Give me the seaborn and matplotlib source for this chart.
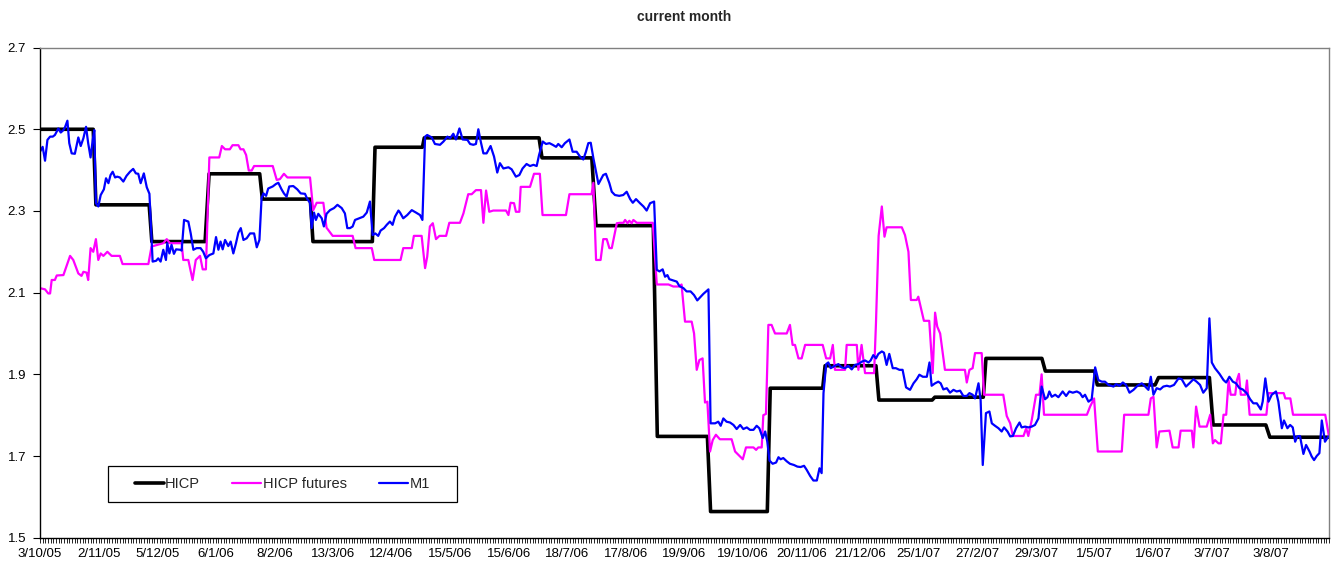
import numpy as np
import pandas as pd
import seaborn as sns
import matplotlib.pyplot as plt
from matplotlib.patches import Rectangle

# -----------------------------
# DATA (x = trading-day index from 3/10/05)
# -----------------------------

date_labels = ["3/10/05", "2/11/05", "5/12/05", "6/1/06", "8/2/06", "13/3/06",
               "12/4/06", "15/5/06", "15/6/06", "18/7/06", "17/8/06", "19/9/06",
               "19/10/06", "20/11/06", "21/12/06", "25/1/07", "27/2/07", "29/3/07",
               "1/5/07", "1/6/07", "3/7/07", "3/8/07"]
n_days = 485

hicp_x = [0, 20, 21, 41, 42, 62, 63.5, 82.5, 83.5, 101.5, 102.5, 124.8, 125.8,
          143.6, 144.3, 187.4, 188.5, 207.2, 208.8, 230.3, 231.8, 250.6, 251.8,
          273.1, 274.2, 293.9, 294.8, 313.9, 315, 335, 336, 354.2, 355.2, 376.2,
          377.5, 396, 397, 418.7, 420, 439.1, 440.5, 460.3, 461.8, 484]
hicp_y = [2.50, 2.50, 2.315, 2.315, 2.225, 2.225, 2.391, 2.391, 2.329, 2.329,
          2.225, 2.225, 2.456, 2.456, 2.479, 2.479, 2.430, 2.430, 2.264, 2.264,
          1.748, 1.748, 1.564, 1.564, 1.866, 1.866, 1.921, 1.921, 1.837, 1.837,
          1.844, 1.844, 1.939, 1.939, 1.908, 1.908, 1.874, 1.874, 1.892, 1.892,
          1.776, 1.776, 1.746, 1.746]

fut_x = [0, 1.9, 3.1, 3.8, 4.4, 5.6, 6.3, 8.8, 11.3, 12.5, 14.4, 15.6, 16.3, 17.5,
         18.1, 19.0, 20.0, 21.0, 21.9, 22.8, 23.8, 25.3, 26.9, 30.0, 31.0, 40.7,
         41.9, 46.3, 47.6, 48.8, 53.2, 53.8, 55.7, 57.3, 58.5, 60.1, 61.1, 62.3,
         63.6, 67.3, 68.3, 69.5, 71.3, 72.3, 74.5, 75.3, 76.4, 77.4, 78.4, 79.5,
         80.4, 87.4, 88.9, 90.1, 91.6, 92.9, 101.4, 102.6, 103.9, 106.4, 107.6,
         109.9, 117.4, 118.5, 124.6, 125.5, 135.4, 136.4, 139.6, 140.4, 143.3,
         144.6, 145.4, 146.4, 147.5, 148.7, 150.0, 152.5, 153.7, 157.7, 159.0,
         160.8, 162.1, 163.7, 165.6, 166.5, 167.5, 168.7, 170.2, 175.0, 175.9,
         176.7, 178.0, 178.7, 180.0, 180.5, 184.0, 185.5, 187.7, 188.7, 197.5,
         198.8, 207.1, 207.8, 208.8, 210.5, 211.5, 212.8, 213.8, 214.7, 216.6,
         217.8, 219.1, 219.7, 220.6, 221.3, 222.2, 222.8, 224.1, 230.1, 231.6,
         236.0, 237.8, 240.3, 240.9, 242.2, 244.7, 245.6, 246.6, 247.6, 248.8,
         249.7, 250.6, 251.6, 252.6, 253.8, 255.3, 259.7, 261.0, 262.2, 263.9,
         265.1, 267.9, 268.9, 269.7, 271.0, 271.6, 272.6, 273.5, 274.7, 276.0,
         280.4, 281.6, 282.6, 283.5, 284.8, 286.0, 287.3, 293.9, 295.2, 296.7,
         297.7, 298.5, 302.3, 302.9, 306.7, 307.3, 308.5, 309.8, 313.2, 313.9,
         314.9, 316.1, 317.1, 317.9, 323.6, 324.8, 326.1, 327.0, 329.2, 329.8,
         331.1, 331.9, 333.9, 335.2, 336.1, 336.9, 338.0, 339.0, 339.8, 347.3,
         348.0, 349.0, 350.2, 351.1, 353.6, 354.5, 361.7, 363.0, 364.3, 365.3,
         369.3, 370.3, 371.1, 372.4, 374.0, 375.3, 376.1, 377.0, 393.1, 394.3,
         395.8, 397.2, 406.2, 407.1, 416.2, 417.1, 418.1, 419.3, 420.3, 424.1,
         425.3, 427.5, 428.3, 432.5, 433.1, 434.1, 435.4, 438.1, 439.4, 440.4,
         441.2, 442.5, 443.4, 444.4, 445.4, 446.3, 447.1, 448.8, 449.4, 450.2,
         450.9, 452.6, 453.2, 454.2, 460.5, 461.3, 467.0, 467.6, 469.5, 470.5,
         482.6, 484.0]
fut_y = [2.111, 2.108, 2.098, 2.098, 2.131, 2.131, 2.142, 2.143, 2.190, 2.180,
         2.147, 2.141, 2.151, 2.149, 2.131, 2.209, 2.200, 2.231, 2.180, 2.196,
         2.190, 2.200, 2.190, 2.190, 2.170, 2.170, 2.213, 2.221, 2.231, 2.221,
         2.221, 2.180, 2.180, 2.131, 2.180, 2.190, 2.157, 2.157, 2.431, 2.431,
         2.459, 2.451, 2.451, 2.461, 2.461, 2.451, 2.451, 2.437, 2.399, 2.399,
         2.410, 2.410, 2.376, 2.378, 2.391, 2.382, 2.382, 2.302, 2.320, 2.320,
         2.259, 2.239, 2.239, 2.209, 2.209, 2.180, 2.180, 2.209, 2.209, 2.239,
         2.239, 2.160, 2.188, 2.262, 2.270, 2.231, 2.239, 2.239, 2.271, 2.271,
         2.294, 2.341, 2.341, 2.351, 2.351, 2.271, 2.350, 2.298, 2.301, 2.301,
         2.290, 2.320, 2.319, 2.298, 2.298, 2.359, 2.359, 2.391, 2.391, 2.290,
         2.290, 2.341, 2.341, 2.369, 2.180, 2.180, 2.231, 2.231, 2.209, 2.209,
         2.270, 2.271, 2.271, 2.278, 2.270, 2.276, 2.270, 2.278, 2.271, 2.271,
         2.120, 2.120, 2.115, 2.115, 2.120, 2.029, 2.029, 2.000, 1.911, 1.935,
         1.939, 1.831, 1.833, 1.711, 1.739, 1.752, 1.741, 1.741, 1.711, 1.703,
         1.692, 1.721, 1.721, 1.715, 1.721, 1.721, 1.800, 1.803, 2.021, 2.021,
         2.000, 2.000, 2.021, 1.972, 1.972, 1.939, 1.939, 1.972, 1.972, 1.939,
         1.939, 1.972, 1.911, 1.911, 1.972, 1.972, 1.911, 1.972, 1.903, 1.903,
         2.025, 2.239, 2.311, 2.237, 2.260, 2.260, 2.241, 2.200, 2.082, 2.082,
         2.090, 2.053, 2.031, 2.031, 1.903, 2.051, 2.017, 2.000, 1.951, 1.911,
         1.911, 1.880, 1.911, 1.915, 1.952, 1.952, 1.850, 1.850, 1.798, 1.780,
         1.749, 1.749, 1.768, 1.749, 1.788, 1.850, 1.850, 1.900, 1.801, 1.801,
         1.821, 1.841, 1.711, 1.711, 1.801, 1.801, 1.841, 1.845, 1.721, 1.760,
         1.762, 1.721, 1.721, 1.762, 1.762, 1.721, 1.821, 1.772, 1.772, 1.801,
         1.731, 1.739, 1.731, 1.731, 1.801, 1.801, 1.885, 1.850, 1.850, 1.885,
         1.901, 1.850, 1.850, 1.885, 1.801, 1.801, 1.854, 1.854, 1.841, 1.841,
         1.801, 1.801, 1.748]

m1_x = [0.0, 1.0, 1.9, 2.8, 3.8, 4.8, 5.6, 6.9, 7.8, 8.8, 9.4, 10.3, 11.0, 11.9,
        13.1, 14.4, 15.3, 16.3, 17.3, 18.1, 19.0, 19.8, 20.4, 21.0, 21.9, 22.8,
        24.0, 24.8, 25.7, 26.5, 27.3, 28.2, 29.0, 30.0, 31.3, 32.5, 33.8, 35.0,
        36.0, 36.9, 37.8, 39.0, 40.1, 41.1, 42.3, 43.6, 44.4, 45.3, 46.3, 47.3,
        47.8, 48.6, 49.4, 50.3, 51.1, 52.6, 53.2, 54.1, 55.7, 56.6, 57.6, 58.8,
        60.3, 61.3, 62.3, 63.6, 65.1, 66.1, 67.0, 67.8, 68.6, 69.5, 70.7, 71.6,
        72.6, 73.6, 74.5, 75.4, 76.4, 77.6, 78.9, 80.4, 81.4, 82.4, 83.2, 83.9,
        84.9, 85.7, 87.4, 88.6, 89.5, 90.7, 91.6, 92.6, 93.6, 95.1, 96.6, 97.9,
        99.5, 100.4, 101.4, 102.0, 102.9, 103.6, 104.5, 105.8, 106.6, 107.6,
        108.9, 110.4, 111.7, 113.3, 114.5, 115.4, 116.4, 117.4, 118.3, 119.9,
        121.4, 122.7, 123.9, 124.9, 125.9, 127.0, 127.9, 129.2, 130.2, 131.4,
        132.4, 133.3, 134.6, 135.2, 136.4, 137.9, 139.6, 141.2, 142.7, 143.6,
        144.6, 145.4, 147.1, 148.3, 150.2, 151.5, 153.0, 154.0, 155.2, 156.2,
        157.5, 158.7, 160.5, 161.5, 162.7, 163.7, 164.6, 165.5, 166.5, 167.7,
        169.2, 170.5, 171.7, 172.7, 174.0, 175.9, 177.1, 178.7, 180.0, 181.2,
        182.7, 184.0, 185.3, 186.5, 187.4, 188.8, 190.0, 191.3, 192.5, 193.8,
        194.6, 195.9, 197.1, 198.8, 200.0, 201.5, 202.8, 204.0, 205.0, 205.9,
        206.8, 207.8, 208.8, 209.7, 210.5, 211.5, 212.5, 213.8, 214.7, 215.9,
        217.5, 219.0, 220.3, 221.6, 222.6, 223.8, 225.3, 226.6, 227.8, 229.1,
        230.6, 231.6, 232.6, 233.8, 234.7, 235.6, 236.3, 237.2, 238.1, 239.1,
        240.1, 241.6, 242.8, 244.3, 245.6, 246.8, 248.1, 249.1, 251.0, 251.8,
        253.5, 254.7, 255.6, 256.6, 257.8, 259.1, 260.4, 261.6, 262.9, 264.1,
        265.4, 266.6, 267.9, 269.1, 270.1, 271.4, 272.3, 273.1, 273.9, 275.1,
        276.4, 277.3, 278.1, 279.1, 280.4, 281.6, 283.1, 284.4, 285.6, 286.9,
        287.9, 289.2, 290.4, 291.7, 292.7, 293.5, 294.2, 295.2, 296.0, 296.9,
        298.5, 299.8, 301.0, 302.3, 303.5, 304.8, 306.0, 307.3, 308.6, 309.8,
        311.1, 311.9, 312.9, 313.9, 314.8, 316.1, 316.9, 317.9, 318.9, 320.2,
        321.4, 322.7, 323.9, 325.2, 326.7, 328.0, 329.2, 330.2, 331.5, 333.0,
        334.0, 334.8, 336.1, 337.3, 338.2, 339.2, 340.5, 341.7, 343.0, 344.2,
        345.5, 346.7, 348.0, 349.0, 350.2, 351.1, 352.4, 353.2, 354.0, 355.2,
        356.5, 357.4, 358.6, 359.9, 361.1, 362.0, 363.3, 364.3, 365.3, 366.5,
        367.8, 368.6, 369.9, 371.1, 372.4, 373.6, 374.9, 376.1, 377.4, 378.3,
        379.0, 379.9, 381.2, 382.4, 384.0, 385.3, 386.5, 387.8, 389.3, 390.5,
        391.5, 392.4, 393.7, 394.9, 396.2, 397.4, 398.7, 399.9, 401.2, 403.1,
        404.1, 405.3, 406.6, 407.8, 409.1, 410.6, 412.1, 413.7, 415.0, 416.2,
        417.1, 418.1, 419.3, 420.6, 421.8, 423.1, 424.3, 425.8, 427.5, 428.7,
        430.3, 431.6, 433.1, 434.3, 435.6, 436.8, 438.1, 439.1, 440.0, 441.2,
        442.9, 444.4, 445.4, 446.6, 447.9, 449.1, 450.4, 451.6, 453.1, 454.4,
        455.6, 456.9, 458.4, 459.1, 460.1, 461.3, 462.5, 464.1, 465.0, 466.3,
        467.1, 468.4, 469.4, 470.4, 471.3, 472.1, 473.1, 474.4, 475.4, 476.7,
        477.5, 478.4, 479.4, 480.4, 481.3, 482.5, 483.8]
m1_y = [2.445, 2.457, 2.423, 2.474, 2.482, 2.482, 2.486, 2.502, 2.492, 2.498,
        2.505, 2.521, 2.466, 2.441, 2.440, 2.480, 2.459, 2.478, 2.506, 2.466,
        2.431, 2.474, 2.498, 2.319, 2.311, 2.339, 2.353, 2.380, 2.368, 2.388,
        2.396, 2.382, 2.384, 2.382, 2.372, 2.386, 2.396, 2.403, 2.392, 2.391,
        2.368, 2.392, 2.358, 2.342, 2.176, 2.178, 2.184, 2.176, 2.205, 2.180,
        2.221, 2.196, 2.217, 2.195, 2.206, 2.205, 2.203, 2.278, 2.274, 2.245,
        2.205, 2.209, 2.209, 2.200, 2.184, 2.192, 2.196, 2.236, 2.205, 2.225,
        2.206, 2.229, 2.214, 2.225, 2.196, 2.221, 2.247, 2.258, 2.229, 2.233,
        2.245, 2.245, 2.211, 2.229, 2.331, 2.343, 2.337, 2.355, 2.360, 2.366,
        2.369, 2.353, 2.343, 2.335, 2.360, 2.361, 2.353, 2.343, 2.342, 2.329,
        2.320, 2.258, 2.296, 2.278, 2.293, 2.282, 2.262, 2.293, 2.302, 2.307,
        2.315, 2.307, 2.294, 2.258, 2.258, 2.262, 2.278, 2.282, 2.286, 2.296,
        2.323, 2.241, 2.245, 2.239, 2.252, 2.258, 2.266, 2.274, 2.266, 2.286,
        2.301, 2.296, 2.282, 2.290, 2.302, 2.296, 2.290, 2.278, 2.482, 2.486,
        2.480, 2.464, 2.462, 2.470, 2.482, 2.478, 2.489, 2.475, 2.502, 2.475,
        2.474, 2.464, 2.462, 2.464, 2.500, 2.470, 2.441, 2.441, 2.459, 2.433,
        2.394, 2.417, 2.404, 2.407, 2.402, 2.384, 2.388, 2.404, 2.415, 2.410,
        2.413, 2.410, 2.437, 2.470, 2.464, 2.466, 2.462, 2.457, 2.464, 2.456,
        2.466, 2.475, 2.445, 2.445, 2.433, 2.426, 2.445, 2.466, 2.467, 2.429,
        2.396, 2.366, 2.376, 2.388, 2.391, 2.368, 2.347, 2.339, 2.337, 2.339,
        2.347, 2.329, 2.320, 2.329, 2.319, 2.311, 2.301, 2.319, 2.323, 2.156,
        2.152, 2.157, 2.139, 2.143, 2.133, 2.131, 2.129, 2.127, 2.116, 2.111,
        2.103, 2.103, 2.094, 2.081, 2.090, 2.097, 2.108, 1.780, 1.780, 1.784,
        1.774, 1.792, 1.784, 1.782, 1.776, 1.766, 1.776, 1.766, 1.770, 1.764,
        1.764, 1.774, 1.768, 1.744, 1.760, 1.735, 1.689, 1.681, 1.684, 1.697,
        1.692, 1.695, 1.687, 1.681, 1.678, 1.674, 1.673, 1.676, 1.666, 1.651,
        1.640, 1.640, 1.670, 1.658, 1.854, 1.925, 1.929, 1.915, 1.921, 1.925,
        1.917, 1.915, 1.921, 1.912, 1.923, 1.925, 1.931, 1.934, 1.929, 1.934,
        1.947, 1.939, 1.950, 1.956, 1.953, 1.923, 1.950, 1.915, 1.915, 1.911,
        1.911, 1.868, 1.862, 1.878, 1.888, 1.899, 1.894, 1.894, 1.929, 1.872,
        1.878, 1.882, 1.878, 1.863, 1.866, 1.855, 1.862, 1.858, 1.860, 1.847,
        1.847, 1.854, 1.850, 1.841, 1.878, 1.837, 1.678, 1.805, 1.809, 1.780,
        1.774, 1.768, 1.760, 1.770, 1.760, 1.748, 1.749, 1.768, 1.782, 1.770,
        1.772, 1.770, 1.772, 1.776, 1.792, 1.870, 1.839, 1.844, 1.858, 1.845,
        1.850, 1.844, 1.858, 1.847, 1.858, 1.855, 1.858, 1.854, 1.844, 1.850,
        1.833, 1.839, 1.917, 1.886, 1.882, 1.882, 1.874, 1.870, 1.876, 1.872,
        1.880, 1.874, 1.855, 1.862, 1.872, 1.878, 1.870, 1.862, 1.894, 1.850,
        1.866, 1.863, 1.870, 1.872, 1.870, 1.874, 1.890, 1.888, 1.870, 1.878,
        1.888, 1.882, 1.874, 1.855, 1.866, 2.037, 1.929, 1.915, 1.901, 1.886,
        1.880, 1.894, 1.882, 1.878, 1.866, 1.863, 1.854, 1.839, 1.829, 1.829,
        1.814, 1.833, 1.890, 1.833, 1.850, 1.858, 1.833, 1.768, 1.787, 1.768,
        1.776, 1.770, 1.735, 1.748, 1.749, 1.705, 1.727, 1.711, 1.699, 1.690,
        1.700, 1.707, 1.787, 1.735, 1.748]

# -----------------------------
# PLOT
# -----------------------------

sns.set_style("white")
plt.rcParams['font.family'] = ['Liberation Sans', 'DejaVu Sans']

fig = plt.figure(figsize=(13.37, 5.70), dpi=100)
ax = fig.add_axes([0.0299, 0.0567, 0.9641, 0.8598])

hicp = pd.DataFrame({"day": hicp_x, "value": hicp_y})
fut = pd.DataFrame({"day": fut_x, "value": fut_y})
m1 = pd.DataFrame({"day": m1_x, "value": m1_y})

sns.lineplot(data=hicp, x="day", y="value", ax=ax, color="black", linewidth=2.6,
             estimator=None, sort=False, label="HICP")
sns.lineplot(data=fut, x="day", y="value", ax=ax, color="#FF00FF", linewidth=1.6,
             estimator=None, sort=False, label="HICP futures")
sns.lineplot(data=m1, x="day", y="value", ax=ax, color="#0000FF", linewidth=1.6,
             estimator=None, sort=False, label="M1")

ax.set_xlim(0, n_days - 1)
ax.set_ylim(1.5, 2.7)
ax.set_xlabel("")
ax.set_ylabel("")

ax.set_yticks(np.arange(1.5, 2.71, 0.2))
ax.set_yticklabels([f"{v:.1f}" for v in np.arange(1.5, 2.71, 0.2)], fontsize=9.5)
ax.set_xticks(np.arange(len(date_labels)) * 22)
ax.set_xticklabels(date_labels, fontsize=9.5)
ax.set_xticks(np.arange(n_days), minor=True)
ax.tick_params(axis="y", which="major", direction="out", length=5, width=0.8,
               pad=5, colors="black", left=True)
ax.tick_params(axis="x", which="both", direction="out", length=3.5, width=0.6,
               pad=4, colors="black", bottom=True)

for side in ["left", "bottom"]:
    ax.spines[side].set_color("black")
    ax.spines[side].set_linewidth(1.0)
for side in ["top", "right"]:
    ax.spines[side].set_color("#808080")
    ax.spines[side].set_linewidth(1.0)

fig.text(684 / 1337, 1 - 17 / 570, "current month", ha="center", va="center",
         fontsize=10, fontweight="bold")

# legend box drawn like the Excel one
leg = ax.legend(loc="center", bbox_to_anchor=(0.188, 0.1096), ncol=3,
                frameon=False, fontsize=10.5, handlelength=2.0,
                handletextpad=0.1, columnspacing=2.2)
ax.add_patch(Rectangle((0.0528, 0.073), 0.2707, 0.073, transform=ax.transAxes,
                       facecolor="white", edgecolor="black", linewidth=0.9,
                       zorder=4.5))

plt.savefig("out.png", dpi=100)
plt.close(fig)
